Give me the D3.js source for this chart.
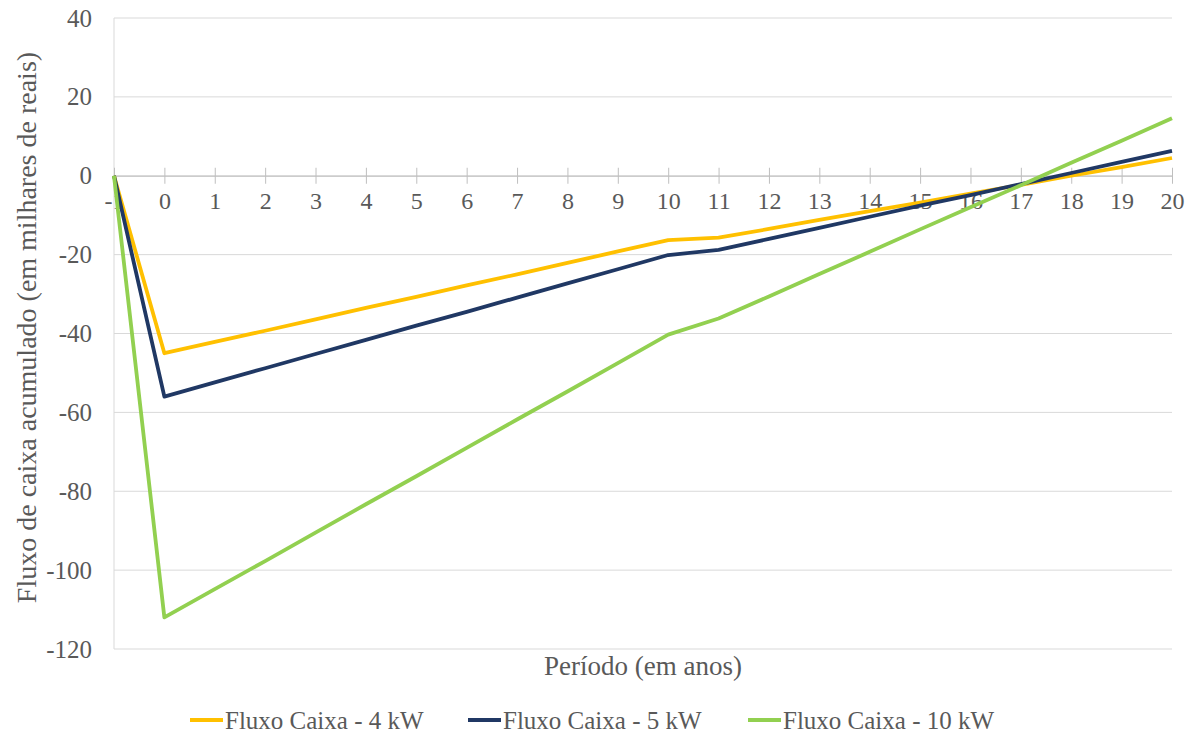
<!DOCTYPE html>
<html>
<head>
<meta charset="utf-8">
<script src="https://cdn.jsdelivr.net/npm/d3@7"></script>
<style>
  html, body { margin: 0; padding: 0; background: #ffffff; }
  .label { font-family: "Liberation Serif", "Times New Roman", "DejaVu Serif", serif; }
</style>
</head>
<body>
<svg id="chart" width="1191" height="736"></svg>
<script>
// Periods (years) and accumulated cash flow in thousands of reais
const periods = [-1, 0, 1, 2, 3, 4, 5, 6, 7, 8, 9, 10, 11, 12, 13, 14, 15, 16, 17, 18, 19, 20];
const flux4kW  = [0, -45, -42.1, -39.3, -36.4, -33.5, -30.7, -27.8, -25.0, -22.1, -19.2, -16.3, -15.7, -13.5, -11.2, -9.0, -6.8, -4.5, -2.3, 0.0, 2.2, 4.5];
const flux5kW  = [0, -56, -52.4, -48.8, -45.2, -41.6, -38.0, -34.5, -30.9, -27.3, -23.7, -20.1, -18.8, -16.0, -13.2, -10.4, -7.6, -4.9, -2.1, 0.7, 3.5, 6.3];
const flux10kW = [0, -112, -104.8, -97.7, -90.5, -83.3, -76.2, -69.0, -61.8, -54.7, -47.5, -40.3, -36.2, -30.6, -24.9, -19.3, -13.6, -8.0, -2.4, 3.3, 8.9, 14.6];
const yTicks = [40, 20, 0, -20, -40, -60, -80, -100, -120];
const seriesNames = ["Fluxo Caixa - 4 kW", "Fluxo Caixa - 5 kW", "Fluxo Caixa - 10 kW"];
const seriesColors = ["#FFC000", "#203864", "#92D050"];

const TEXT_COLOR = "#595959";

const series = [flux4kW, flux5kW, flux10kW].map((vals, i) => ({
  name: seriesNames[i], color: seriesColors[i],
  points: periods.map((p, j) => ({ p, v: vals[j] }))
}));

const svg = d3.select("#chart");
const plotLeft = 114, plotRight = 1172, plotTop = 18, plotBottom = 649;

const x = d3.scalePoint().domain(periods).range([plotLeft, plotRight]);
const y = d3.scaleLinear().domain([-120, 40]).range([plotBottom, plotTop]);

// Horizontal gridlines
svg.append("g")
  .selectAll("line").data(yTicks).join("line")
  .attr("x1", plotLeft).attr("x2", plotRight)
  .attr("y1", d => y(d)).attr("y2", d => y(d))
  .attr("stroke", "#D9D9D9").attr("stroke-width", 1);

// Vertical axis line
svg.append("line")
  .attr("x1", plotLeft).attr("x2", plotLeft).attr("y1", plotTop).attr("y2", plotBottom)
  .attr("stroke", "#D9D9D9").attr("stroke-width", 1);

// Y axis labels
const yAxis = d3.axisLeft(y).tickValues(yTicks).tickSize(0).tickPadding(22).tickFormat(d => String(d));
const gy = svg.append("g").attr("transform", `translate(${plotLeft},0)`).call(yAxis)
  .attr("font-family", null).attr("font-size", 25);
gy.select(".domain").remove();
gy.selectAll("text").attr("class", "label").attr("fill", TEXT_COLOR);

// Category axis crossing at zero
const xAxis = d3.axisBottom(x).tickSizeInner(0).tickSizeOuter(0).tickPadding(16).tickFormat(d => String(d));
const gx = svg.append("g").attr("transform", `translate(0,${y(0)})`).call(xAxis)
  .attr("font-family", null).attr("font-size", 24);
gx.select(".domain").attr("stroke", "#BFBFBF");
gx.selectAll(".tick line").remove();
gx.selectAll(".tick").append("line")
  .attr("y1", -8).attr("y2", 8).attr("stroke", "#BFBFBF");
gx.selectAll("text").attr("class", "label").attr("fill", TEXT_COLOR);

// Series lines
const line = d3.line().x(d => x(d.p)).y(d => y(d.v));
svg.append("g").selectAll("path").data(series).join("path")
  .attr("d", d => line(d.points))
  .attr("fill", "none")
  .attr("stroke", d => d.color)
  .attr("stroke-width", 3.8)
  .attr("stroke-linejoin", "round");

// Axis titles
svg.append("text")
  .attr("class", "label")
  .attr("x", 643).attr("y", 675)
  .attr("text-anchor", "middle")
  .attr("font-size", 27).attr("fill", TEXT_COLOR)
  .text("Período (em anos)");

svg.append("text")
  .attr("class", "label")
  .attr("transform", `translate(36,${(plotTop + plotBottom) / 2 - 6}) rotate(-90)`)
  .attr("text-anchor", "middle")
  .attr("font-size", 28).attr("fill", TEXT_COLOR)
  .text("Fluxo de caixa acumulado (em milhares de reais)");

// Legend
const legendX = [190, 468, 748];
const lg = svg.append("g").selectAll("g").data(series).join("g")
  .attr("transform", (d, i) => `translate(${legendX[i]},720)`);
lg.append("line").attr("x1", 0).attr("x2", 33).attr("y1", 0).attr("y2", 0)
  .attr("stroke", d => d.color).attr("stroke-width", 3.8);
lg.append("text").attr("class", "label").attr("x", 35).attr("y", 9)
  .attr("font-size", 25).attr("fill", TEXT_COLOR)
  .text(d => d.name);
</script>
</body>
</html>
